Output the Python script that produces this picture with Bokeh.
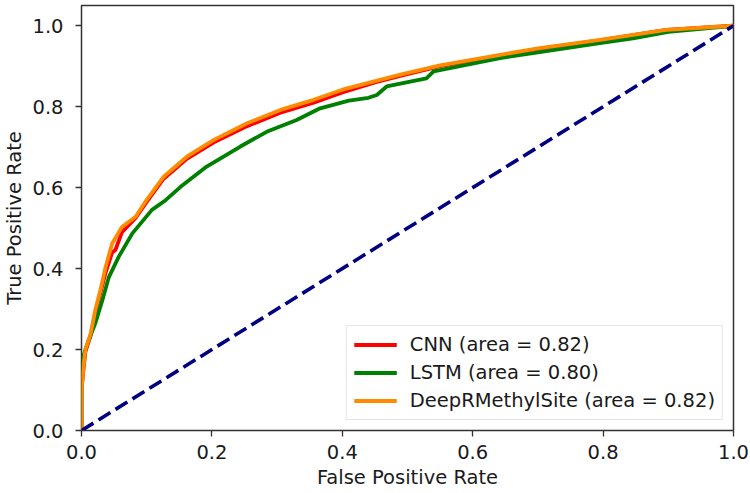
from bokeh.plotting import figure
from bokeh.models import Range1d, FixedTicker, NumeralTickFormatter, Legend, LegendItem
from bokeh.embed import file_html
from bokeh.resources import INLINE

# ---- data ----
cnn_fpr = [0.0, 0.0, 0.003, 0.006, 0.014, 0.021, 0.029, 0.037, 0.047, 0.052, 0.062, 0.083,
           0.10, 0.126, 0.162, 0.203, 0.254, 0.305, 0.356, 0.40, 0.45, 0.489, 0.55, 0.642,
           0.70, 0.795, 0.897, 1.0]
cnn_tpr = [0.0, 0.10, 0.15, 0.195, 0.235, 0.29, 0.34, 0.39, 0.44, 0.446, 0.49, 0.525,
           0.565, 0.622, 0.672, 0.712, 0.752, 0.785, 0.81, 0.835, 0.86, 0.876, 0.90, 0.926,
           0.942, 0.964, 0.99, 1.0]

lstm_fpr = [0.0, 0.0, 0.005, 0.011, 0.021, 0.032, 0.042, 0.057, 0.078, 0.108, 0.129, 0.152,
            0.192, 0.243, 0.284, 0.33, 0.366, 0.41, 0.44, 0.453, 0.468, 0.529, 0.54, 0.642,
            0.795, 0.846, 0.90, 1.0]
lstm_tpr = [0.0, 0.165, 0.195, 0.223, 0.264, 0.322, 0.379, 0.429, 0.487, 0.545, 0.569, 0.602,
            0.652, 0.701, 0.738, 0.767, 0.796, 0.815, 0.822, 0.829, 0.85, 0.87, 0.887, 0.92,
            0.957, 0.969, 0.985, 1.0]

deep_fpr = [0.0, 0.0, 0.003, 0.006, 0.014, 0.021, 0.029, 0.037, 0.047, 0.062, 0.083, 0.10,
            0.126, 0.162, 0.203, 0.254, 0.305, 0.356, 0.40, 0.489, 0.55, 0.642, 0.70, 0.795,
            0.897, 1.0]
deep_tpr = [0.0, 0.10, 0.157, 0.20, 0.239, 0.297, 0.347, 0.404, 0.462, 0.503, 0.528, 0.57,
            0.627, 0.677, 0.718, 0.759, 0.792, 0.817, 0.842, 0.879, 0.902, 0.928, 0.944, 0.965,
            0.99, 1.0]

chance = [0.0, 1.0]

labels = ["CNN (area = 0.82)", "LSTM (area = 0.80)", "DeepRMethylSite (area = 0.82)"]
ticks = [0.0, 0.2, 0.4, 0.6, 0.8, 1.0]

FONT = "DejaVu Sans"
FS = "19.5px"
TXT = "#1a1a1a"

p = figure(width=750, height=493, output_backend="svg", toolbar_location=None,
           x_range=Range1d(0, 1), y_range=Range1d(0, 1.05),
           min_border_left=81, min_border_right=17, min_border_top=5, min_border_bottom=63)
p.grid.visible = False
p.outline_line_color = "#333333"
p.outline_line_width = 1.5
p.background_fill_color = "white"
p.border_fill_color = "white"

for ax in (p.xaxis[0], p.yaxis[0]):
    ax.ticker = FixedTicker(ticks=ticks)
    ax.formatter = NumeralTickFormatter(format="0.0")
    ax.axis_line_color = None
    ax.major_tick_line_color = "#333333"
    ax.major_tick_line_width = 1.3
    ax.major_tick_out = 6
    ax.major_tick_in = 0
    ax.minor_tick_line_color = None
    ax.major_label_text_font = FONT
    ax.major_label_text_font_size = FS
    ax.major_label_text_color = TXT
    ax.axis_label_text_font = FONT
    ax.axis_label_text_font_size = FS
    ax.axis_label_text_font_style = "normal"
    ax.axis_label_text_color = TXT

p.xaxis.major_label_standoff = 8
p.yaxis.major_label_standoff = 12
p.xaxis.axis_label = "False Positive Rate"
p.yaxis.axis_label = "True Positive Rate"
p.xaxis.axis_label_standoff = 4
p.yaxis.axis_label_standoff = 3

r1 = p.line(cnn_fpr, cnn_tpr, line_color="red", line_width=3.8)
r2 = p.line(lstm_fpr, lstm_tpr, line_color="green", line_width=3.8)
r3 = p.line(deep_fpr, deep_tpr, line_color="darkorange", line_width=3.8)
p.line(chance, chance, line_color="navy", line_width=3.6, line_dash="14 6")

legend = Legend(items=[LegendItem(label=labels[0], renderers=[r1]),
                       LegendItem(label=labels[1], renderers=[r2]),
                       LegendItem(label=labels[2], renderers=[r3])],
                location="bottom_right")
legend.label_text_font = FONT
legend.label_text_font_size = FS
legend.label_text_color = TXT
legend.glyph_width = 43
legend.glyph_height = 21
legend.label_height = 21
legend.label_standoff = 13
legend.spacing = 5
legend.padding = 7
legend.margin = 10
legend.border_line_color = "#cccccc"
legend.border_line_width = 1.2
legend.background_fill_alpha = 0.85
p.add_layout(legend)

open("out.html", "w").write(file_html(p, INLINE))
